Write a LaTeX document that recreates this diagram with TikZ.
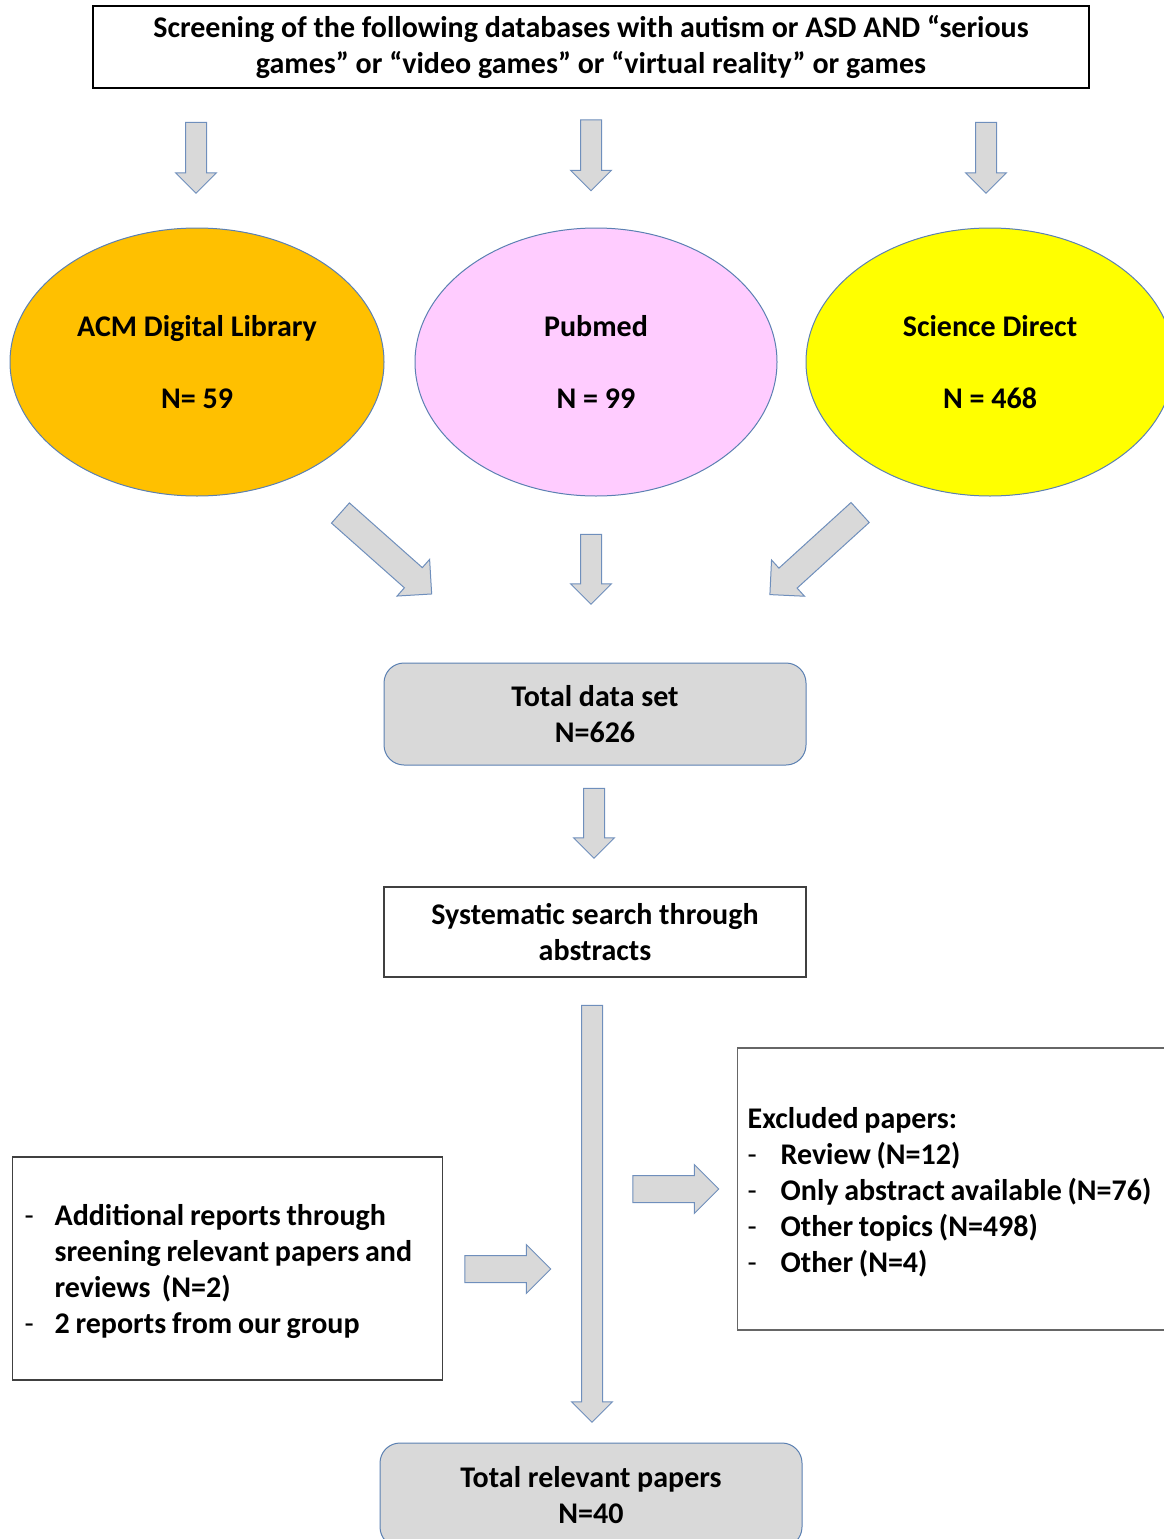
\documentclass[tikz,border=0pt]{standalone}
\usepackage{fontspec}
\setmainfont{Carlito}
\usetikzlibrary{shapes.geometric,shapes.arrows,positioning}
\definecolor{acmorange}{HTML}{FFC000}
\definecolor{pubpink}{HTML}{FFCCFF}
\definecolor{scyellow}{HTML}{FFFF00}
\definecolor{boxgray}{HTML}{D9D9D9}
\definecolor{edgeblue}{HTML}{5B80B2}
\definecolor{arrowedge}{HTML}{6F8FBC}
\definecolor{framegray}{HTML}{404040}
\tikzset{
  txt/.style={font=\bfseries\fontsize{30}{36}\selectfont},
  topbox/.style={txt, draw=black, line width=2.5pt, minimum width=996pt, minimum height=82pt, align=center, inner sep=0pt},
  db/.style={txt, ellipse, draw=edgeblue, line width=1pt, minimum width=374pt, minimum height=268pt, align=center, inner sep=0pt},
  totalbox/.style={txt, draw=edgeblue, fill=boxgray, rounded corners=20pt, line width=1pt, minimum width=422pt, minimum height=102pt, align=center},
  plainbox/.style={txt, draw=framegray, line width=1.2pt, minimum width=422pt, minimum height=90pt, align=center},
  sidebox/.style={txt, draw=framegray, line width=1.2pt, align=left, anchor=west},
  thinarrow/.style={single arrow, draw=arrowedge, fill=boxgray, line width=1pt, inner xsep=0pt, inner ysep=10pt, single arrow head extend=10pt},
  widearrow/.style={single arrow, draw=arrowedge, fill=boxgray, line width=1pt, inner xsep=0pt, inner ysep=13pt, single arrow head extend=11pt},
}
\newcommand{\dashmark}{{\mdseries -}}
\begin{document}
\begin{tikzpicture}[x=1pt,y=-1pt]
  \useasboundingbox (0,0) rectangle (1163,1539);

  % Query
  \node[topbox] (query) at (591,47) {Screening of the following databases with autism or ASD AND “serious\\games” or “video games” or “virtual reality” or games};

  % Databases
  \node[db, fill=acmorange] (acm) at (197,362) {ACM Digital Library\\[36pt]N= 59};
  \node[db, fill=pubpink, minimum width=362pt] (pubmed) at (596,362) {Pubmed\\[36pt]N = 99};
  \node[db, fill=scyellow, minimum width=368pt] (scidir) at (990,362) {Science Direct\\[36pt]N = 468};

  % Arrows into the databases
  \node[thinarrow, minimum height=71pt, rotate=-90] (qa) at (196,152.5) {};
  \node[thinarrow, minimum height=71pt, rotate=-90] (qb) at (591,150) {};
  \node[thinarrow, minimum height=71pt, rotate=-90] (qc) at (986,152.5) {};

  % Arrows to the data set
  \node[widearrow, minimum height=122pt, rotate=-41.6] (da) at (381,549) {};
  \node[thinarrow, minimum height=70pt, rotate=-90] (db) at (591,564) {};
  \node[widearrow, minimum height=122pt, rotate=-137.7] (dc) at (820,549) {};

  % Steps
  \node[totalbox] (total) at (595,714) {Total data set\\N=626};
  \node[thinarrow, minimum height=70pt, rotate=-90] (ta) at (594,818) {};
  \node[plainbox] (search) at (595,932) {Systematic search through\\abstracts};
  \node[thinarrow, minimum height=417pt, rotate=-90] (sa) at (592,1208.5) {};

  % Side boxes
  \node[sidebox, minimum height=223pt, inner xsep=12pt, text width=406pt] (extra) at (12,1268.5) {%
    \spaceskip=0.85\fontdimen2\font plus 0.1em
    \raisebox{-4pt}[\height][\depth]{\begin{tabular}{@{}p{30pt}@{}l@{}}
      \dashmark & Additional reports through\\
                & sreening relevant papers and\\
                & reviews~ (N=2)\\
      \dashmark & 2 reports from our group
    \end{tabular}}};
  \node[widearrow, minimum height=86pt] (ea) at (501,1269) {};

  \node[widearrow, minimum height=86pt] (xa) at (669,1189) {};
  \node[sidebox, minimum height=282pt, inner xsep=10pt, text width=420pt, draw=gray!80!black] (excl) at (737,1189) {%
    \spaceskip=0.85\fontdimen2\font plus 0.1em
    \raisebox{-4pt}[\height][\depth]{\begin{tabular}{@{}p{33pt}@{}l@{}}
      \multicolumn{2}{@{}l@{}}{Excluded papers:}\\
      \dashmark & Review (N=12)\\
      \dashmark & Only abstract available (N=76)\\
      \dashmark & Other topics (N=498)\\
      \dashmark & Other (N=4)
    \end{tabular}}};

  % Result
  \node[totalbox, minimum height=104pt] (result) at (591,1495) {Total relevant papers\\N=40};

\end{tikzpicture}
\end{document}
